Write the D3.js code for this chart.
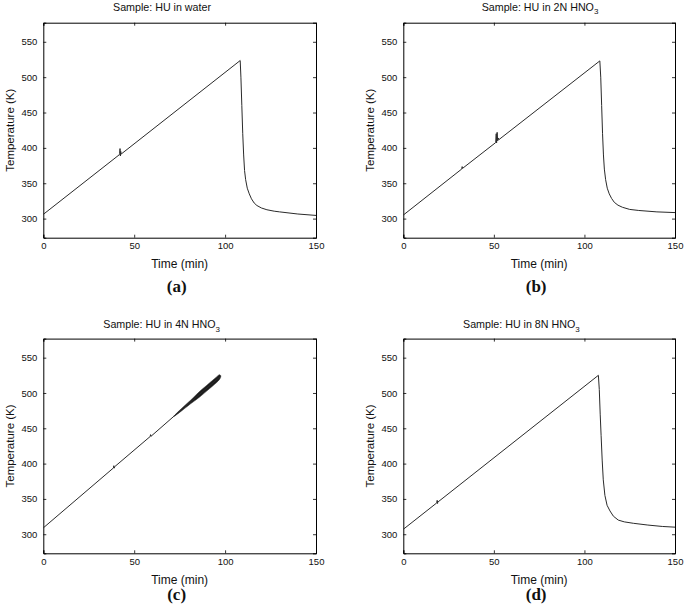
<!DOCTYPE html>
<html><head><meta charset="utf-8">
<script src="https://cdn.jsdelivr.net/npm/d3@7"></script>
<style>body{margin:0;background:#fff}svg{display:block}text{font-family:"Liberation Sans",Arial,Helvetica,sans-serif;fill:#111}</style>
</head><body><svg id="chart" width="685" height="614"></svg>
<script>
// ---- data ----
const xTicks = [0, 50, 100, 150];
const yTicks = [300, 350, 400, 450, 500, 550];
const xDomain = [0, 150];
const yDomain = [273, 577];
const titleMain = ["Sample: HU in water", "Sample: HU in 2N HNO", "Sample: HU in 4N HNO", "Sample: HU in 8N HNO"];
const titleSub = ["", "3", "3", "3"];
const panelLetters = ["(a)", "(b)", "(c)", "(d)"];
const xLabel = "Time (min)";
const yLabel = "Temperature (K)";

const timeA = [0, 41.8, 42.0, 42.2, 42.4, 42.6, 42.8, 108.3, 108.7, 109.2, 109.7, 110.2, 110.7, 111.3, 112.2, 113.3, 114.5, 116, 117.5, 120, 123, 127, 130, 140, 150];
const tempA = [306, 390.3, 392, 399, 388.5, 395, 391.2, 523.5, 500, 460, 420, 390, 368, 355, 343, 335, 328, 322, 318.5, 315, 312.5, 310.5, 309.5, 306.5, 304.5];

const timeB = [0, 32.3, 32.5, 32.7, 51.0, 51.3, 51.5, 51.8, 52.1, 52.4, 52.7, 108.5, 109, 109.5, 110, 110.5, 111, 111.7, 112.6, 113.7, 115, 116.5, 118.5, 121, 125, 130, 140, 150];
const tempB = [305, 370.2, 373.5, 371, 407.5, 420, 407, 422, 410, 414, 411.5, 523, 500, 460, 420, 390, 370, 355, 343, 335, 328.5, 323, 319, 316, 313, 311.5, 309.5, 308.5];

const timeC = [0, 38.6, 38.8, 39.0, 39.2, 58.8, 59.0, 59.2, 72, 97.5];
const tempC = [309, 393.9, 397, 393.5, 395.5, 438.4, 441, 438.6, 467.4, 523.5];
const bandTime = [72, 75, 78, 81, 84, 87, 90, 93, 95, 97, 97.6];
const bandLow  = [466.9, 472.5, 478.6, 484.7, 490.3, 496.4, 503, 509.6, 514, 519.4, 522.5];
const bandHigh = [467.9, 475.5, 482.6, 489.7, 497.3, 504.4, 511, 517.6, 522, 525.9, 524.5];

const timeD = [0, 18.5, 18.7, 18.9, 19.1, 19.3, 107.7, 108.2, 108.7, 109.2, 109.8, 110.4, 111.3, 112.5, 114.1, 116, 118.7, 122, 127, 135, 143, 150];
const tempD = [307, 344.4, 348, 343.5, 347, 346, 525, 505, 470, 440, 405, 377, 355, 341, 333, 325.5, 320, 317.5, 315.5, 313, 311, 310];

// ---- layout ----
const layout = [
  {x0: 43.3, x1: 316, y0: 22.7, y1: 237.7, titleX: 113, titleY: 10.5, timeY: 268, letterY: 291.5, t: timeA, T: tempA},
  {x0: 403.3, x1: 675, y0: 22.7, y1: 237.7, titleX: 481.7, titleY: 10.5, timeY: 268, letterY: 291.5, t: timeB, T: tempB},
  {x0: 43.3, x1: 316, y0: 338.6, y1: 553.3, titleX: 103.3, titleY: 328, timeY: 583.5, letterY: 600, t: timeC, T: tempC, band: true},
  {x0: 403.3, x1: 675, y0: 338.6, y1: 553.3, titleX: 463, titleY: 328, timeY: 583.5, letterY: 600, t: timeD, T: tempD}
];

const svg = d3.select("#chart");

layout.forEach((p, i) => {
  const x = d3.scaleLinear().domain(xDomain).range([p.x0, p.x1]);
  const y = d3.scaleLinear().domain(yDomain).range([p.y1, p.y0]);
  const g = svg.append("g");
  const tl = 3;

  // axes (inward ticks, box)
  const bottom = g.append("g").attr("transform", `translate(0,${p.y1})`)
    .call(d3.axisBottom(x).tickValues(xTicks).tickSize(-tl).tickPadding(5).tickFormat(d3.format("d")));
  const top = g.append("g").attr("transform", `translate(0,${p.y0})`)
    .call(d3.axisTop(x).tickValues(xTicks).tickSize(-tl).tickFormat(""));
  const left = g.append("g").attr("transform", `translate(${p.x0},0)`)
    .call(d3.axisLeft(y).tickValues(yTicks).tickSize(-tl).tickPadding(6).tickFormat(d3.format("d")));
  const right = g.append("g").attr("transform", `translate(${p.x1},0)`)
    .call(d3.axisRight(y).tickValues(yTicks).tickSize(-tl).tickFormat(""));
  [bottom, top, left, right].forEach(a => {
    a.select(".domain").attr("stroke", "#000").attr("stroke-width", 1);
    a.selectAll(".tick line").attr("stroke", "#000").attr("stroke-width", 0.8);
    a.selectAll("text").attr("font-size", 9.5).attr("fill", "#111")
      .attr("font-family", '"Liberation Sans",Arial,sans-serif');
  });
  bottom.selectAll(".tick text").attr("dy", "0.71em");

  // band (c)
  if (p.band) {
    const bd = bandTime.map((t, k) => ({t, lo: bandLow[k], hi: bandHigh[k]}));
    g.append("path").datum(bd)
      .attr("d", d3.area().x(d => x(d.t)).y0(d => y(d.lo)).y1(d => y(d.hi)).curve(d3.curveCatmullRom))
      .attr("fill", "#1a1a1a").attr("stroke", "#333").attr("stroke-width", 0.6);
  }

  // line
  const data = p.t.map((t, k) => [t, p.T[k]]);
  g.append("path").datum(data)
    .attr("d", d3.line().x(d => x(d[0])).y(d => y(d[1])))
    .attr("fill", "none").attr("stroke", "#2a2a2a").attr("stroke-width", 1);

  // title
  const tt = g.append("text").attr("x", p.titleX).attr("y", p.titleY).attr("font-size", 10.7);
  tt.append("tspan").text(titleMain[i]);
  if (titleSub[i]) tt.append("tspan").attr("dy", 3.5).attr("font-size", 8).text(titleSub[i]);

  // axis labels
  g.append("text").attr("x", (p.x0 + p.x1) / 2).attr("y", p.timeY).attr("text-anchor", "middle")
    .attr("font-size", 12).text(xLabel);
  g.append("text").attr("transform", `translate(${p.x0 - 29},${(p.y0 + p.y1) / 2}) rotate(-90)`)
    .attr("text-anchor", "middle").attr("font-size", 11.5).text(yLabel);

  // panel letter
  g.append("text").attr("x", (p.x0 + p.x1) / 2 - 3).attr("y", p.letterY).attr("text-anchor", "middle")
    .attr("font-weight", "bold").attr("font-size", 17)
    .style("font-family", '"Liberation Serif","Times New Roman",serif').text(panelLetters[i]);
});
</script>
</body></html>
